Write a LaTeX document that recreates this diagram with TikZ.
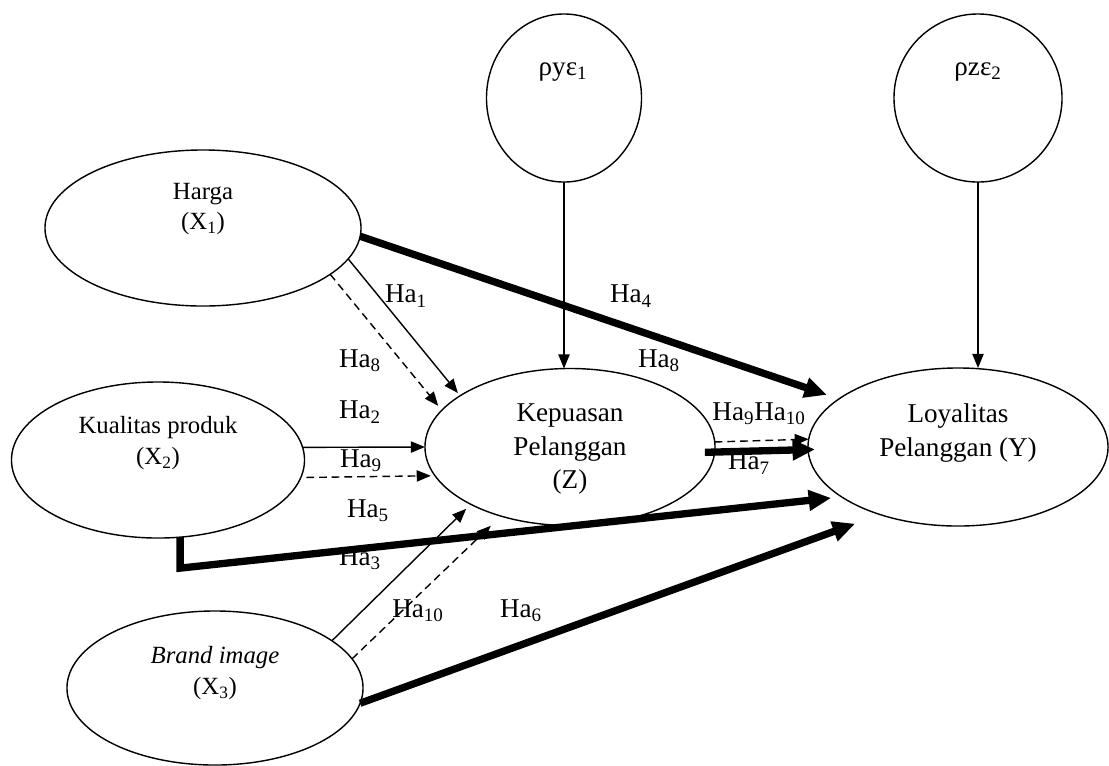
\documentclass[tikz,border=0pt]{standalone}
\usepackage{fontspec}
\setmainfont{Liberation Serif}
\usetikzlibrary{arrows.meta,shapes,positioning,calc}

\tikzset{
  var/.style={ellipse, draw, line width=1pt, inner sep=0pt, outer sep=0pt},
  txt/.style={align=center, inner sep=0pt, font=\fontsize{19.3}{23.5}\selectfont},
  smalltxt/.style={align=center, inner sep=0pt, font=\fontsize{17.6}{22}\selectfont},
  hyp/.style={inner sep=0pt, font=\fontsize{19.3}{23}\selectfont},
  thin/.style={line width=1pt, -{Triangle[length=10pt,width=8pt]}},
  thk/.style={line width=5.2pt, -{Triangle[length=16pt,width=14pt]}},
  dsh/.style={thin, dash pattern=on 5.5pt off 3.5pt}
}

\begin{document}
\begin{tikzpicture}[x=0.025cm, y=-0.025cm]
\useasboundingbox (0,0) rectangle (1109,765);

% variables
\node[var, minimum width=7.9cm, minimum height=3.9cm] (harga) at (203,228) {};
\node[var, minimum width=7.325cm, minimum height=3.9cm] (kual) at (158,460) {};
\node[var, minimum width=7.4cm, minimum height=3.85cm] (brand) at (215,688) {};
\node[var, minimum width=7.25cm, minimum height=3.925cm] (kep) at (570,447) {};
\node[var, minimum width=7.5cm, minimum height=3.95cm] (loy) at (958,447) {};
\node[var, minimum width=3.875cm, minimum height=4.2cm] (rhoy) at (564,98) {};
\node[var, minimum width=4.2cm, minimum height=4.2cm] (rhoz) at (978,98) {};

% texts in the ellipses
\node[smalltxt] (hargaT) at (203,209) {Harga\\(X\textsubscript{1})};
\node[smalltxt] (kualT) at (158,443) {Kualitas produk\\(X\textsubscript{2})};
\node[smalltxt] (brandT) at (215,673) {\textit{Brand image}\\(X\textsubscript{3})};
\node[txt] (kepT) at (570,449) {Kepuasan\\Pelanggan\\(Z)};
\node[txt] (loyT) at (958,433) {Loyalitas\\Pelanggan (Y)};
\node[txt] (rhoyT) at (563,72) {ρyε\textsubscript{1}};
\node[txt] (rhozT) at (978,72) {ρzε\textsubscript{2}};

% paths
\path[thin] (harga.-12.4) edge[shorten >=2.5pt] (kep.155)
            (kual.5) edge (kep.180)
            (brand.22) edge[shorten >=4.6pt] (kep.210.3)
            (rhoy.south) edge (rhoy.south |- kep.north)
            (rhoz.south) edge (rhoz.south |- loy.north);
\path[dsh] (harga.-20.3) edge[shorten >=4pt] (kep.164.7)
           (kual.-7) edge[shorten <=4pt, shorten >=3pt] (kep.192.6)
           (brand.12.3) edge[shorten >=10pt] (kep.225.6)
           (kep.2.4) edge (loy.177.7);
\path[thk] (harga.-3.3) edge[shorten >=9pt] (loy.158.8)
           (brand.-6) edge[shorten >=19pt] (loy.221.8)
           (kep.-2) edge[shorten <=-7pt, shorten >=-5pt] (loy.181.9);
\draw[thk] (kual.-74) -- ++(0,31) -- ([shift={(-10.3pt,1pt)}]loy.205.8);

% hypothesis labels
\node[hyp] (ha1) at (406,296) {Ha\textsubscript{1}};
\node[hyp] (ha8a) at (360,361) {Ha\textsubscript{8}};
\node[hyp] (ha2) at (360,412) {Ha\textsubscript{2}};
\node[hyp] (ha9) at (361,461) {Ha\textsubscript{9}};
\node[hyp] (ha5) at (368,511) {Ha\textsubscript{5}};
\node[hyp] (ha3) at (360,559) {Ha\textsubscript{3}};
\node[hyp] (ha10) at (418,611) {Ha\textsubscript{10}};
\node[hyp] (ha6) at (521,611) {Ha\textsubscript{6}};
\node[hyp] (ha4) at (631,296) {Ha\textsubscript{4}};
\node[hyp] (ha8b) at (659,361) {Ha\textsubscript{8}};
\node[hyp] (ha910) at (759,414) {Ha\textsubscript{9}Ha\textsubscript{10}};
\node[hyp] (ha7) at (749,463) {Ha\textsubscript{7}};
\end{tikzpicture}
\end{document}
